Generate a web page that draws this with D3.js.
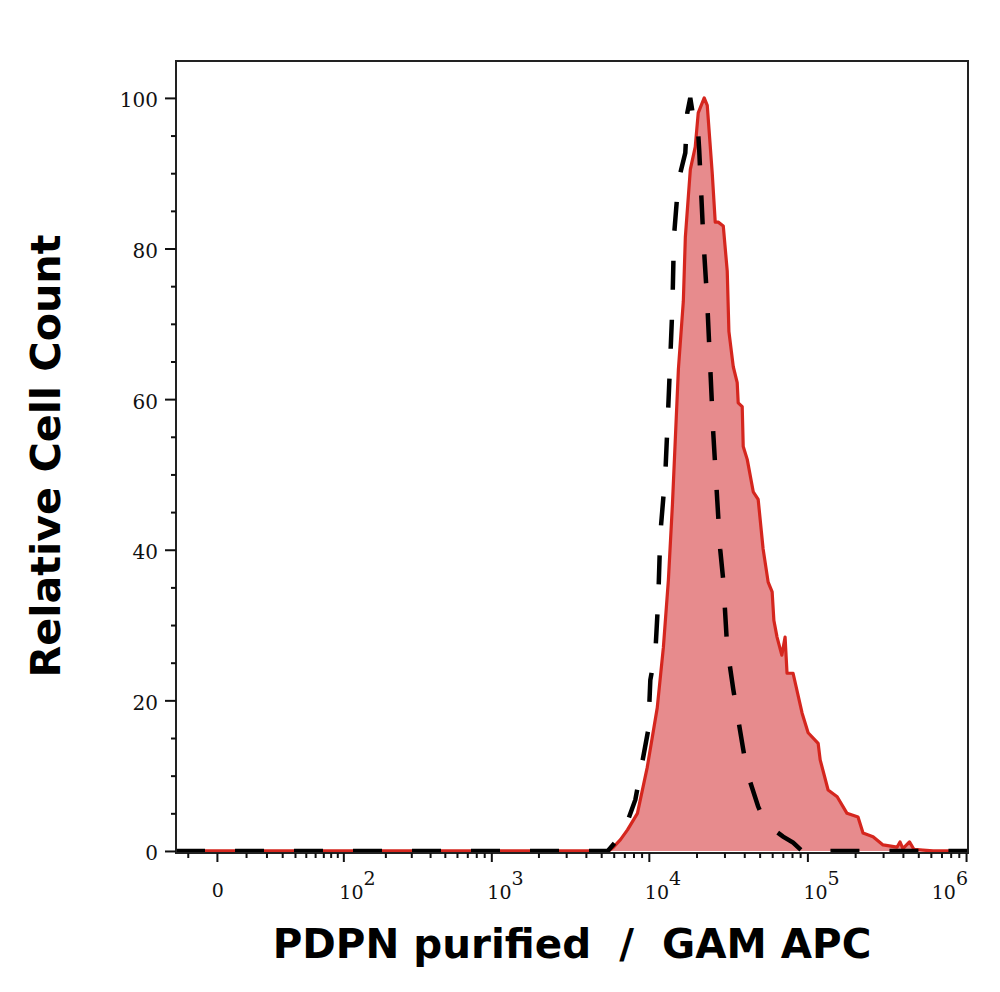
<!DOCTYPE html>
<html>
<head>
<meta charset="utf-8">
<script src="https://cdn.jsdelivr.net/npm/d3@7"></script>
<style>
  body { margin: 0; background: #fff; }
  .tick text { font-family: "DejaVu Serif", serif; font-size: 20px; fill: #111; }
  .axis line { stroke: #111; stroke-width: 2px; }
  .title { font-family: "DejaVu Sans", Verdana, sans-serif; font-weight: bold; fill: #000; }
</style>
</head>
<body>
<svg id="chart" width="1000" height="992"></svg>
<script>
/* ---- data (intensity, % of max) ---- */
const sampleX = [-15.4, 5570, 5980, 6620, 7330, 8470, 9770, 11300, 12350, 13290, 14090, 15370, 16510, 17000,
  18280, 19630, 20500, 22360, 23370, 25120, 26240, 27400, 29490, 31240, 32000, 34100, 36100, 36630, 38820,
  39400, 41760, 45580, 48940, 52590, 56580, 59950, 61500, 64370, 69000, 72350, 74420, 81240, 92630, 101100,
  116900, 120400, 135100, 154100, 177700, 208500, 224200, 259300, 299800, 367100, 383400, 400000, 440000,
  470000, 534300, 620000, 1028700];
const sampleY = [0, 0, 0.5, 1.5, 2.8, 5.0, 11.1, 19.0, 27.0, 36.0, 46.0, 64.0, 73.0, 81.5,
  90.5, 93.5, 98.0, 100, 99.0, 90.0, 83.5, 83.5, 83.0, 77.0, 69.0, 64.3, 62.2, 59.5, 59.0,
  53.7, 52.0, 47.7, 46.7, 40.1, 35.7, 34.4, 30.6, 28.4, 26.0, 28.4, 23.6, 23.6, 18.3, 15.7,
  14.3, 12.1, 8.1, 7.2, 5.0, 4.5, 2.4, 1.9, 0.8, 0.5, 1.2, 0.3, 1.2,
  0.2, 0.1, 0, 0];

const controlX = [-15.4, 5500, 6900, 8220, 8840, 9920, 10220, 10990, 11480, 11810, 12710, 13270, 14100,
  14400, 15370, 16990, 17480, 18260, 19080, 20200, 20800, 22050, 23350, 24400, 25500, 27020, 28220, 29470,
  31220, 34080, 36610, 39400, 41740, 48930, 54150, 70280, 81230, 92600, 1028700];
const controlY = [0, 0, 2.4, 6.8, 10.4, 16.1, 22.7, 26.3, 33.7, 42.0, 50.1, 59.0, 72.5,
  81.5, 89.0, 92.7, 98.0, 100, 97.5, 97.5, 93.0, 81.5, 73.0, 64.3, 55.5, 46.6, 40.0, 36.0,
  27.0, 21.5, 17.5, 13.5, 10.4, 5.9, 3.7, 1.9, 1.1, 0, 0];

const yTicks = [0, 20, 40, 60, 80, 100];
const yMinor = [5, 10, 15, 25, 30, 35, 45, 50, 55, 65, 70, 75, 85, 90, 95];
const xMajor = [0, 1e2, 1e3, 1e4, 1e5, 1e6];
const xExponents = ["", "2", "3", "4", "5", "6"];
const xMinor = [-10, 10, 20, 30, 40, 50, 60, 70, 80, 90];
[2, 3, 4, 5].forEach(k => { for (let m = 2; m <= 9; m++) xMinor.push(m * Math.pow(10, k)); });

const xTitle = "PDPN purified  /  GAM APC";
const yTitle = "Relative Cell Count";

/* ---- layout ---- */
const L = 176, R = 968, T = 61, B = 853;
const svg = d3.select("#chart");

const x = d3.scaleSymlog().constant(19).domain([-15.4, 1028700]).range([L, R]);
const y = d3.scaleLinear().domain([-0.27, 104.9]).range([B, T]);

const sample  = sampleX.map((v, i) => [v, sampleY[i]]);
const control = controlX.map((v, i) => [v, controlY[i]]);

/* red filled histogram */
svg.append("path").datum(sample)
   .attr("d", d3.area().x(d => x(d[0])).y0(y(0)).y1(d => y(d[1])))
   .attr("fill", "#e78b8d");
svg.append("path").datum(sample)
   .attr("d", d3.line().x(d => x(d[0])).y(d => y(d[1])))
   .attr("fill", "none").attr("stroke", "#d5261e").attr("stroke-width", 3.2)
   .attr("stroke-linejoin", "round");

/* black dashed control */
svg.append("path").datum(control)
   .attr("d", d3.line().x(d => x(d[0])).y(d => y(d[1])))
   .attr("fill", "none").attr("stroke", "#000").attr("stroke-width", 4.5)
   .attr("stroke-dasharray", "29,30");

/* frame */
svg.append("rect").attr("x", L).attr("y", T).attr("width", R - L).attr("height", B - T)
   .attr("fill", "none").attr("stroke", "#222").attr("stroke-width", 2);

/* y axis */
svg.append("g").attr("class", "axis").attr("transform", `translate(${L},0)`)
   .call(d3.axisLeft(y).tickValues(yMinor).tickSize(5).tickFormat(""))
   .call(g => g.select(".domain").remove());
svg.append("g").attr("class", "axis").attr("transform", `translate(${L},0)`)
   .call(d3.axisLeft(y).tickValues(yTicks).tickSize(11).tickPadding(7).tickFormat(d3.format("d")))
   .call(g => g.select(".domain").remove())
   .call(g => g.selectAll("text").attr("dy", "0.45em"));

/* x axis */
svg.append("g").attr("class", "axis").attr("transform", `translate(0,${B})`)
   .call(d3.axisBottom(x).tickValues(xMinor).tickSize(5).tickFormat(""))
   .call(g => g.select(".domain").remove());
svg.append("g").attr("class", "axis").attr("transform", `translate(0,${B})`)
   .call(d3.axisBottom(x).tickValues(xMajor).tickSize(9).tickFormat(""))
   .call(g => g.select(".domain").remove());

const xl = svg.append("g").attr("font-family", "DejaVu Serif, serif").attr("font-size", 19).attr("fill", "#111");
xMajor.forEach((v, i) => {
  if (v === 0) {
    xl.append("text").attr("x", x(v) + 1).attr("y", 897).attr("text-anchor", "middle").text("0");
  } else {
    const last = i === xMajor.length - 1;
    const t = xl.append("text").attr("x", last ? x(v) + 2 : x(v) - 4).attr("y", 899)
                .attr("text-anchor", last ? "end" : "start");
    t.append("tspan").text("10");
    t.append("tspan").attr("dy", -14).text(xExponents[i]);
  }
});

/* titles, fitted to the reference widths */
function fit(sel, target) {
  const w = sel.node().getComputedTextLength();
  sel.attr("font-size", 40 * target / w);
}
const xt = svg.append("text").attr("class", "title").attr("x", 572).attr("y", 958)
   .attr("text-anchor", "middle").attr("font-size", 40).attr("xml:space", "preserve").text(xTitle);
fit(xt, 599);
const yt = svg.append("text").attr("class", "title")
   .attr("transform", "translate(60,456) rotate(-90)")
   .attr("text-anchor", "middle").attr("font-size", 40).text(yTitle);
fit(yt, 443);
</script>
</body>
</html>
